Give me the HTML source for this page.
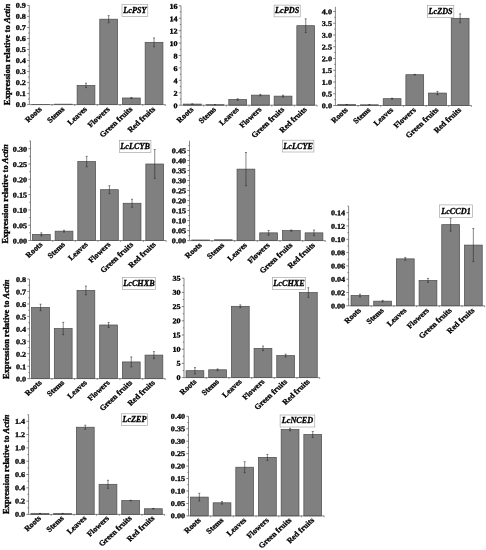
<!DOCTYPE html>
<html lang="en"><head><meta charset="utf-8"><title>Figure</title>
<style>
html,body{margin:0;padding:0;background:#fff;overflow:hidden}
svg{display:block}
text{font-family:"Liberation Serif",serif;font-weight:bold;fill:#000;stroke:#000;stroke-width:0.3px}
.t{font-size:7.3px}
.c{font-size:7.9px;stroke-width:0.28px}
.l{font-size:8.2px;font-style:italic}
.y{font-size:8.7px;stroke-width:0.34px}
</style></head><body>
<svg width="486" height="550" viewBox="0 0 486 550">
<rect width="486" height="550" fill="#fff"/>
<g>
<rect x="31.74" y="104.38" width="17.8" height="0.22" fill="#808080" stroke="#4a4a4a" stroke-width="0.7"/>
<rect x="54.42" y="104.16" width="17.8" height="0.44" fill="#808080" stroke="#4a4a4a" stroke-width="0.7"/>
<rect x="77.1" y="85.42" width="17.8" height="19.18" fill="#808080" stroke="#4a4a4a" stroke-width="0.7"/>
<path d="M86 83.22V87.63M85 83.22h2M85 87.63h2" stroke="#222" stroke-width="0.55" fill="none"/>
<rect x="99.78" y="19.18" width="17.8" height="85.42" fill="#808080" stroke="#4a4a4a" stroke-width="0.7"/>
<path d="M108.68 15.65V22.7M107.68 15.65h2M107.68 22.7h2" stroke="#222" stroke-width="0.55" fill="none"/>
<rect x="122.46" y="97.99" width="17.8" height="6.61" fill="#808080" stroke="#4a4a4a" stroke-width="0.7"/>
<path d="M131.36 97.44V98.54M130.36 97.44h2M130.36 98.54h2" stroke="#222" stroke-width="0.55" fill="none"/>
<rect x="145.14" y="42.32" width="17.8" height="62.28" fill="#808080" stroke="#4a4a4a" stroke-width="0.7"/>
<path d="M154.04 37.92V46.73M153.04 37.92h2M153.04 46.73h2" stroke="#222" stroke-width="0.55" fill="none"/>
<path d="M29.3 5.4V104.6H165.38M29.3 104.6h-2.2M29.3 99.09h-1.2M29.3 93.58h-2.2M29.3 88.07h-1.2M29.3 82.56h-2.2M29.3 77.04h-1.2M29.3 71.53h-2.2M29.3 66.02h-1.2M29.3 60.51h-2.2M29.3 55h-1.2M29.3 49.49h-2.2M29.3 43.98h-1.2M29.3 38.47h-2.2M29.3 32.96h-1.2M29.3 27.44h-2.2M29.3 21.93h-1.2M29.3 16.42h-2.2M29.3 10.91h-1.2M29.3 5.4h-2.2M51.98 104.6v1.3M74.66 104.6v1.3M97.34 104.6v1.3M120.02 104.6v1.3M142.7 104.6v1.3M165.38 104.6v1.3" stroke="#555" stroke-width="0.7" fill="none"/>
<text transform="translate(25.9 107.05) rotate(0.05) scale(1.12 1)" text-anchor="end" class="t">0.0</text>
<text transform="translate(25.9 96.03) rotate(0.05) scale(1.12 1)" text-anchor="end" class="t">0.1</text>
<text transform="translate(25.9 85.01) rotate(0.05) scale(1.12 1)" text-anchor="end" class="t">0.2</text>
<text transform="translate(25.9 73.98) rotate(0.05) scale(1.12 1)" text-anchor="end" class="t">0.3</text>
<text transform="translate(25.9 62.96) rotate(0.05) scale(1.12 1)" text-anchor="end" class="t">0.4</text>
<text transform="translate(25.9 51.94) rotate(0.05) scale(1.12 1)" text-anchor="end" class="t">0.5</text>
<text transform="translate(25.9 40.92) rotate(0.05) scale(1.12 1)" text-anchor="end" class="t">0.6</text>
<text transform="translate(25.9 29.89) rotate(0.05) scale(1.12 1)" text-anchor="end" class="t">0.7</text>
<text transform="translate(25.9 18.87) rotate(0.05) scale(1.12 1)" text-anchor="end" class="t">0.8</text>
<text transform="translate(25.9 7.85) rotate(0.05) scale(1.12 1)" text-anchor="end" class="t">0.9</text>
<text transform="translate(42.24 109.6) scale(1.035 .965) rotate(-45)" text-anchor="end" class="c">Roots</text>
<text transform="translate(64.92 109.6) scale(1.035 .965) rotate(-45)" text-anchor="end" class="c">Stems</text>
<text transform="translate(87.6 109.6) scale(1.035 .965) rotate(-45)" text-anchor="end" class="c">Leaves</text>
<text transform="translate(110.28 109.6) scale(1.035 .965) rotate(-45)" text-anchor="end" class="c">Flowers</text>
<text transform="translate(132.96 109.6) scale(1.035 .965) rotate(-45)" text-anchor="end" class="c">Green fruits</text>
<text transform="translate(155.64 109.6) scale(1.035 .965) rotate(-45)" text-anchor="end" class="c">Red fruits</text>
<rect x="122" y="4.3" width="25.8" height="12.1" fill="#fff" stroke="#9a9a9a" stroke-width="0.6"/>
<text x="134.9" y="13" text-anchor="middle" class="l">LcPSY</text>
<text transform="translate(9.6 54.45) rotate(-90) scale(0.996 1)" text-anchor="middle" class="y">Expression relative to <tspan font-style="italic">Actin</tspan></text>
</g>
<g>
<rect x="183.44" y="104.08" width="17.8" height="1.12" fill="#808080" stroke="#4a4a4a" stroke-width="0.7"/>
<path d="M192.34 103.9V104.27M191.34 103.9h2M191.34 104.27h2" stroke="#222" stroke-width="0.55" fill="none"/>
<rect x="206.12" y="104.7" width="17.8" height="0.5" fill="#808080" stroke="#4a4a4a" stroke-width="0.7"/>
<path d="M215.02 104.58V104.83M214.02 104.58h2M214.02 104.83h2" stroke="#222" stroke-width="0.55" fill="none"/>
<rect x="228.8" y="99.48" width="17.8" height="5.72" fill="#808080" stroke="#4a4a4a" stroke-width="0.7"/>
<path d="M237.7 98.74V100.23M236.7 98.74h2M236.7 100.23h2" stroke="#222" stroke-width="0.55" fill="none"/>
<rect x="251.48" y="95.14" width="17.8" height="10.06" fill="#808080" stroke="#4a4a4a" stroke-width="0.7"/>
<path d="M260.38 94.39V95.88M259.38 94.39h2M259.38 95.88h2" stroke="#222" stroke-width="0.55" fill="none"/>
<rect x="274.16" y="96.13" width="17.8" height="9.07" fill="#808080" stroke="#4a4a4a" stroke-width="0.7"/>
<path d="M283.06 95.2V97.06M282.06 95.2h2M282.06 97.06h2" stroke="#222" stroke-width="0.55" fill="none"/>
<rect x="296.84" y="25.68" width="17.8" height="79.52" fill="#808080" stroke="#4a4a4a" stroke-width="0.7"/>
<path d="M305.74 18.85V32.51M304.74 18.85h2M304.74 32.51h2" stroke="#222" stroke-width="0.55" fill="none"/>
<path d="M181 5.8V105.2H317.08M181 105.2h-2.2M181 98.99h-1.2M181 92.78h-2.2M181 86.56h-1.2M181 80.35h-2.2M181 74.14h-1.2M181 67.92h-2.2M181 61.71h-1.2M181 55.5h-2.2M181 49.29h-1.2M181 43.08h-2.2M181 36.86h-1.2M181 30.65h-2.2M181 24.44h-1.2M181 18.22h-2.2M181 12.01h-1.2M181 5.8h-2.2M203.68 105.2v1.3M226.36 105.2v1.3M249.04 105.2v1.3M271.72 105.2v1.3M294.4 105.2v1.3M317.08 105.2v1.3" stroke="#555" stroke-width="0.7" fill="none"/>
<text transform="translate(177.6 108.15) rotate(0.05) scale(1.12 1)" text-anchor="end" class="t">0</text>
<text transform="translate(177.6 95.73) rotate(0.05) scale(1.12 1)" text-anchor="end" class="t">2</text>
<text transform="translate(177.6 83.3) rotate(0.05) scale(1.12 1)" text-anchor="end" class="t">4</text>
<text transform="translate(177.6 70.88) rotate(0.05) scale(1.12 1)" text-anchor="end" class="t">6</text>
<text transform="translate(177.6 58.45) rotate(0.05) scale(1.12 1)" text-anchor="end" class="t">8</text>
<text transform="translate(177.6 46.03) rotate(0.05) scale(1.12 1)" text-anchor="end" class="t">10</text>
<text transform="translate(177.6 33.6) rotate(0.05) scale(1.12 1)" text-anchor="end" class="t">12</text>
<text transform="translate(177.6 21.17) rotate(0.05) scale(1.12 1)" text-anchor="end" class="t">14</text>
<text transform="translate(177.6 8.75) rotate(0.05) scale(1.12 1)" text-anchor="end" class="t">16</text>
<text transform="translate(193.94 110) scale(1.035 .965) rotate(-45)" text-anchor="end" class="c">Roots</text>
<text transform="translate(216.62 110) scale(1.035 .965) rotate(-45)" text-anchor="end" class="c">Stems</text>
<text transform="translate(239.3 110) scale(1.035 .965) rotate(-45)" text-anchor="end" class="c">Leaves</text>
<text transform="translate(261.98 110) scale(1.035 .965) rotate(-45)" text-anchor="end" class="c">Flowers</text>
<text transform="translate(284.66 110) scale(1.035 .965) rotate(-45)" text-anchor="end" class="c">Green fruits</text>
<text transform="translate(307.34 110) scale(1.035 .965) rotate(-45)" text-anchor="end" class="c">Red fruits</text>
<rect x="274.1" y="5.1" width="26.1" height="11.75" fill="#fff" stroke="#9a9a9a" stroke-width="0.6"/>
<text x="287.15" y="13.4" text-anchor="middle" class="l">LcPDS</text>
</g>
<g>
<rect x="337.84" y="104.56" width="17.8" height="0.94" fill="#808080" stroke="#4a4a4a" stroke-width="0.7"/>
<path d="M346.74 104.44V104.68M345.74 104.44h2M345.74 104.68h2" stroke="#222" stroke-width="0.55" fill="none"/>
<rect x="360.52" y="104.8" width="17.8" height="0.7" fill="#808080" stroke="#4a4a4a" stroke-width="0.7"/>
<path d="M369.42 104.68V104.91M368.42 104.68h2M368.42 104.91h2" stroke="#222" stroke-width="0.55" fill="none"/>
<rect x="383.2" y="98.69" width="17.8" height="6.81" fill="#808080" stroke="#4a4a4a" stroke-width="0.7"/>
<path d="M392.1 98.22V99.16M391.1 98.22h2M391.1 99.16h2" stroke="#222" stroke-width="0.55" fill="none"/>
<rect x="405.88" y="74.72" width="17.8" height="30.78" fill="#808080" stroke="#4a4a4a" stroke-width="0.7"/>
<path d="M414.78 74.36V75.07M413.78 74.36h2M413.78 75.07h2" stroke="#222" stroke-width="0.55" fill="none"/>
<rect x="428.56" y="93.05" width="17.8" height="12.45" fill="#808080" stroke="#4a4a4a" stroke-width="0.7"/>
<path d="M437.46 91.4V94.69M436.46 91.4h2M436.46 94.69h2" stroke="#222" stroke-width="0.55" fill="none"/>
<rect x="451.24" y="18.31" width="17.8" height="87.19" fill="#808080" stroke="#4a4a4a" stroke-width="0.7"/>
<path d="M460.14 13.85V22.78M459.14 13.85h2M459.14 22.78h2" stroke="#222" stroke-width="0.55" fill="none"/>
<path d="M335.4 6.8V105.5H471.48M335.4 105.5h-2.2M335.4 99.62h-1.2M335.4 93.75h-2.2M335.4 87.88h-1.2M335.4 82h-2.2M335.4 76.12h-1.2M335.4 70.25h-2.2M335.4 64.38h-1.2M335.4 58.5h-2.2M335.4 52.62h-1.2M335.4 46.75h-2.2M335.4 40.88h-1.2M335.4 35h-2.2M335.4 29.12h-1.2M335.4 23.25h-2.2M335.4 17.38h-1.2M335.4 11.5h-2.2M358.08 105.5v1.3M380.76 105.5v1.3M403.44 105.5v1.3M426.12 105.5v1.3M448.8 105.5v1.3M471.48 105.5v1.3" stroke="#555" stroke-width="0.7" fill="none"/>
<text transform="translate(332 108.25) rotate(0.05) scale(1.12 1)" text-anchor="end" class="t">0.0</text>
<text transform="translate(332 96.5) rotate(0.05) scale(1.12 1)" text-anchor="end" class="t">0.5</text>
<text transform="translate(332 84.75) rotate(0.05) scale(1.12 1)" text-anchor="end" class="t">1.0</text>
<text transform="translate(332 73) rotate(0.05) scale(1.12 1)" text-anchor="end" class="t">1.5</text>
<text transform="translate(332 61.25) rotate(0.05) scale(1.12 1)" text-anchor="end" class="t">2.0</text>
<text transform="translate(332 49.5) rotate(0.05) scale(1.12 1)" text-anchor="end" class="t">2.5</text>
<text transform="translate(332 37.75) rotate(0.05) scale(1.12 1)" text-anchor="end" class="t">3.0</text>
<text transform="translate(332 26) rotate(0.05) scale(1.12 1)" text-anchor="end" class="t">3.5</text>
<text transform="translate(332 14.25) rotate(0.05) scale(1.12 1)" text-anchor="end" class="t">4.0</text>
<text transform="translate(348.34 110.3) scale(1.035 .965) rotate(-45)" text-anchor="end" class="c">Roots</text>
<text transform="translate(371.02 110.3) scale(1.035 .965) rotate(-45)" text-anchor="end" class="c">Stems</text>
<text transform="translate(393.7 110.3) scale(1.035 .965) rotate(-45)" text-anchor="end" class="c">Leaves</text>
<text transform="translate(416.38 110.3) scale(1.035 .965) rotate(-45)" text-anchor="end" class="c">Flowers</text>
<text transform="translate(439.06 110.3) scale(1.035 .965) rotate(-45)" text-anchor="end" class="c">Green fruits</text>
<text transform="translate(461.74 110.3) scale(1.035 .965) rotate(-45)" text-anchor="end" class="c">Red fruits</text>
<rect x="427.4" y="5.4" width="26.4" height="12.2" fill="#fff" stroke="#9a9a9a" stroke-width="0.6"/>
<text x="440.6" y="14.3" text-anchor="middle" class="l">LcZDS</text>
</g>
<g>
<rect x="32.44" y="234.38" width="17.8" height="6.12" fill="#808080" stroke="#4a4a4a" stroke-width="0.7"/>
<path d="M41.34 232.85V235.91M40.34 232.85h2M40.34 235.91h2" stroke="#222" stroke-width="0.55" fill="none"/>
<rect x="55.12" y="231.17" width="17.8" height="9.33" fill="#808080" stroke="#4a4a4a" stroke-width="0.7"/>
<path d="M64.02 230.25V232.09M63.02 230.25h2M63.02 232.09h2" stroke="#222" stroke-width="0.55" fill="none"/>
<rect x="77.8" y="161.55" width="17.8" height="78.95" fill="#808080" stroke="#4a4a4a" stroke-width="0.7"/>
<path d="M86.7 156.35V166.75M85.7 156.35h2M85.7 166.75h2" stroke="#222" stroke-width="0.55" fill="none"/>
<rect x="100.48" y="189.7" width="17.8" height="50.8" fill="#808080" stroke="#4a4a4a" stroke-width="0.7"/>
<path d="M109.38 185.73V193.68M108.38 185.73h2M108.38 193.68h2" stroke="#222" stroke-width="0.55" fill="none"/>
<rect x="123.16" y="203.26" width="17.8" height="37.24" fill="#808080" stroke="#4a4a4a" stroke-width="0.7"/>
<path d="M132.06 199.28V207.24M131.06 199.28h2M131.06 207.24h2" stroke="#222" stroke-width="0.55" fill="none"/>
<rect x="145.84" y="164" width="17.8" height="76.5" fill="#808080" stroke="#4a4a4a" stroke-width="0.7"/>
<path d="M154.74 149.62V178.38M153.74 149.62h2M153.74 178.38h2" stroke="#222" stroke-width="0.55" fill="none"/>
<path d="M30.5 140.74V240.5H166.08M30.5 240.5h-2.2M30.5 232.85h-1.2M30.5 225.2h-2.2M30.5 217.55h-1.2M30.5 209.9h-2.2M30.5 202.25h-1.2M30.5 194.6h-2.2M30.5 186.95h-1.2M30.5 179.3h-2.2M30.5 171.65h-1.2M30.5 164h-2.2M30.5 156.35h-1.2M30.5 148.7h-2.2M30.5 141.05h-1.2M52.68 240.5v1.3M75.36 240.5v1.3M98.04 240.5v1.3M120.72 240.5v1.3M143.4 240.5v1.3M166.08 240.5v1.3" stroke="#555" stroke-width="0.7" fill="none"/>
<text transform="translate(27.1 243.45) rotate(0.05) scale(1.12 1)" text-anchor="end" class="t">0.00</text>
<text transform="translate(27.1 228.15) rotate(0.05) scale(1.12 1)" text-anchor="end" class="t">0.05</text>
<text transform="translate(27.1 212.85) rotate(0.05) scale(1.12 1)" text-anchor="end" class="t">0.10</text>
<text transform="translate(27.1 197.55) rotate(0.05) scale(1.12 1)" text-anchor="end" class="t">0.15</text>
<text transform="translate(27.1 182.25) rotate(0.05) scale(1.12 1)" text-anchor="end" class="t">0.20</text>
<text transform="translate(27.1 166.95) rotate(0.05) scale(1.12 1)" text-anchor="end" class="t">0.25</text>
<text transform="translate(27.1 151.65) rotate(0.05) scale(1.12 1)" text-anchor="end" class="t">0.30</text>
<text transform="translate(42.94 245) scale(1.035 .965) rotate(-45)" text-anchor="end" class="c">Roots</text>
<text transform="translate(65.62 245) scale(1.035 .965) rotate(-45)" text-anchor="end" class="c">Stems</text>
<text transform="translate(88.3 245) scale(1.035 .965) rotate(-45)" text-anchor="end" class="c">Leaves</text>
<text transform="translate(110.98 245) scale(1.035 .965) rotate(-45)" text-anchor="end" class="c">Flowers</text>
<text transform="translate(133.66 245) scale(1.035 .965) rotate(-45)" text-anchor="end" class="c">Green fruits</text>
<text transform="translate(156.34 245) scale(1.035 .965) rotate(-45)" text-anchor="end" class="c">Red fruits</text>
<rect x="119.4" y="140.4" width="31.5" height="11.9" fill="#fff" stroke="#9a9a9a" stroke-width="0.6"/>
<text x="135.15" y="148.7" text-anchor="middle" class="l">LcLCYB</text>
<text transform="translate(7.9 194) rotate(-90) scale(0.975 1)" text-anchor="middle" class="y">Expression relative to <tspan font-style="italic">Actin</tspan></text>
</g>
<g>
<rect x="191.69" y="240" width="17.8" height="0.6" fill="#808080" stroke="#4a4a4a" stroke-width="0.7"/>
<rect x="214.37" y="239.8" width="17.8" height="0.8" fill="#808080" stroke="#4a4a4a" stroke-width="0.7"/>
<rect x="237.05" y="169.12" width="17.8" height="71.48" fill="#808080" stroke="#4a4a4a" stroke-width="0.7"/>
<path d="M245.95 152.5V185.74M244.95 152.5h2M244.95 185.74h2" stroke="#222" stroke-width="0.55" fill="none"/>
<rect x="259.73" y="232.85" width="17.8" height="7.75" fill="#808080" stroke="#4a4a4a" stroke-width="0.7"/>
<path d="M268.63 230.45V235.25M267.63 230.45h2M267.63 235.25h2" stroke="#222" stroke-width="0.55" fill="none"/>
<rect x="282.41" y="230.59" width="17.8" height="10.01" fill="#808080" stroke="#4a4a4a" stroke-width="0.7"/>
<path d="M291.31 229.99V231.19M290.31 229.99h2M290.31 231.19h2" stroke="#222" stroke-width="0.55" fill="none"/>
<rect x="305.09" y="232.85" width="17.8" height="7.75" fill="#808080" stroke="#4a4a4a" stroke-width="0.7"/>
<path d="M313.99 230.05V235.65M312.99 230.05h2M312.99 235.65h2" stroke="#222" stroke-width="0.55" fill="none"/>
<path d="M189.5 140.75V240.6H325.33M189.5 240.6h-2.2M189.5 235.59h-1.2M189.5 230.59h-2.2M189.5 225.58h-1.2M189.5 220.58h-2.2M189.5 215.57h-1.2M189.5 210.57h-2.2M189.5 205.56h-1.2M189.5 200.56h-2.2M189.5 195.55h-1.2M189.5 190.54h-2.2M189.5 185.54h-1.2M189.5 180.53h-2.2M189.5 175.53h-1.2M189.5 170.52h-2.2M189.5 165.52h-1.2M189.5 160.51h-2.2M189.5 155.51h-1.2M189.5 150.5h-2.2M189.5 145.49h-1.2M211.93 240.6v1.3M234.61 240.6v1.3M257.29 240.6v1.3M279.97 240.6v1.3M302.65 240.6v1.3M325.33 240.6v1.3" stroke="#555" stroke-width="0.7" fill="none"/>
<text transform="translate(186.1 243.35) rotate(0.05) scale(1.12 1)" text-anchor="end" class="t">0.00</text>
<text transform="translate(186.1 233.34) rotate(0.05) scale(1.12 1)" text-anchor="end" class="t">0.05</text>
<text transform="translate(186.1 223.33) rotate(0.05) scale(1.12 1)" text-anchor="end" class="t">0.10</text>
<text transform="translate(186.1 213.32) rotate(0.05) scale(1.12 1)" text-anchor="end" class="t">0.15</text>
<text transform="translate(186.1 203.31) rotate(0.05) scale(1.12 1)" text-anchor="end" class="t">0.20</text>
<text transform="translate(186.1 193.29) rotate(0.05) scale(1.12 1)" text-anchor="end" class="t">0.25</text>
<text transform="translate(186.1 183.28) rotate(0.05) scale(1.12 1)" text-anchor="end" class="t">0.30</text>
<text transform="translate(186.1 173.27) rotate(0.05) scale(1.12 1)" text-anchor="end" class="t">0.35</text>
<text transform="translate(186.1 163.26) rotate(0.05) scale(1.12 1)" text-anchor="end" class="t">0.40</text>
<text transform="translate(186.1 153.25) rotate(0.05) scale(1.12 1)" text-anchor="end" class="t">0.45</text>
<text transform="translate(202.19 245.6) scale(1.035 .965) rotate(-45)" text-anchor="end" class="c">Roots</text>
<text transform="translate(224.87 245.6) scale(1.035 .965) rotate(-45)" text-anchor="end" class="c">Stems</text>
<text transform="translate(247.55 245.6) scale(1.035 .965) rotate(-45)" text-anchor="end" class="c">Leaves</text>
<text transform="translate(270.23 245.6) scale(1.035 .965) rotate(-45)" text-anchor="end" class="c">Flowers</text>
<text transform="translate(292.91 245.6) scale(1.035 .965) rotate(-45)" text-anchor="end" class="c">Green fruits</text>
<text transform="translate(315.59 245.6) scale(1.035 .965) rotate(-45)" text-anchor="end" class="c">Red fruits</text>
<rect x="282.4" y="140.2" width="31.5" height="11.8" fill="#fff" stroke="#9a9a9a" stroke-width="0.6"/>
<text x="298.15" y="148.55" text-anchor="middle" class="l">LcLCYE</text>
</g>
<g>
<rect x="351.04" y="295.49" width="17.8" height="10.31" fill="#808080" stroke="#4a4a4a" stroke-width="0.7"/>
<path d="M359.94 294.16V296.82M358.94 294.16h2M358.94 296.82h2" stroke="#222" stroke-width="0.55" fill="none"/>
<rect x="373.72" y="301.15" width="17.8" height="4.65" fill="#808080" stroke="#4a4a4a" stroke-width="0.7"/>
<path d="M382.62 300.35V301.94M381.62 300.35h2M381.62 301.94h2" stroke="#222" stroke-width="0.55" fill="none"/>
<rect x="396.4" y="258.85" width="17.8" height="46.95" fill="#808080" stroke="#4a4a4a" stroke-width="0.7"/>
<path d="M405.3 257.52V260.18M404.3 257.52h2M404.3 260.18h2" stroke="#222" stroke-width="0.55" fill="none"/>
<rect x="419.08" y="280.4" width="17.8" height="25.4" fill="#808080" stroke="#4a4a4a" stroke-width="0.7"/>
<path d="M427.98 278.4V282.39M426.98 278.4h2M426.98 282.39h2" stroke="#222" stroke-width="0.55" fill="none"/>
<rect x="441.76" y="224.67" width="17.8" height="81.13" fill="#808080" stroke="#4a4a4a" stroke-width="0.7"/>
<path d="M450.66 218.15V231.19M449.66 218.15h2M449.66 231.19h2" stroke="#222" stroke-width="0.55" fill="none"/>
<rect x="464.44" y="245.09" width="17.8" height="60.71" fill="#808080" stroke="#4a4a4a" stroke-width="0.7"/>
<path d="M473.34 228.53V261.64M472.34 228.53h2M472.34 261.64h2" stroke="#222" stroke-width="0.55" fill="none"/>
<path d="M348.6 206.05V305.8H484.68M348.6 305.8h-2.2M348.6 299.15h-1.2M348.6 292.5h-2.2M348.6 285.85h-1.2M348.6 279.2h-2.2M348.6 272.55h-1.2M348.6 265.9h-2.2M348.6 259.25h-1.2M348.6 252.6h-2.2M348.6 245.95h-1.2M348.6 239.3h-2.2M348.6 232.65h-1.2M348.6 226h-2.2M348.6 219.35h-1.2M348.6 212.7h-2.2M348.6 206.05h-1.2M371.28 305.8v1.3M393.96 305.8v1.3M416.64 305.8v1.3M439.32 305.8v1.3M462 305.8v1.3M484.68 305.8v1.3" stroke="#555" stroke-width="0.7" fill="none"/>
<text transform="translate(345.2 308.45) rotate(0.05) scale(1.12 1)" text-anchor="end" class="t">0.00</text>
<text transform="translate(345.2 295.15) rotate(0.05) scale(1.12 1)" text-anchor="end" class="t">0.02</text>
<text transform="translate(345.2 281.85) rotate(0.05) scale(1.12 1)" text-anchor="end" class="t">0.04</text>
<text transform="translate(345.2 268.55) rotate(0.05) scale(1.12 1)" text-anchor="end" class="t">0.06</text>
<text transform="translate(345.2 255.25) rotate(0.05) scale(1.12 1)" text-anchor="end" class="t">0.08</text>
<text transform="translate(345.2 241.95) rotate(0.05) scale(1.12 1)" text-anchor="end" class="t">0.10</text>
<text transform="translate(345.2 228.65) rotate(0.05) scale(1.12 1)" text-anchor="end" class="t">0.12</text>
<text transform="translate(345.2 215.35) rotate(0.05) scale(1.12 1)" text-anchor="end" class="t">0.14</text>
<text transform="translate(361.54 310.8) scale(1.035 .965) rotate(-45)" text-anchor="end" class="c">Roots</text>
<text transform="translate(384.22 310.8) scale(1.035 .965) rotate(-45)" text-anchor="end" class="c">Stems</text>
<text transform="translate(406.9 310.8) scale(1.035 .965) rotate(-45)" text-anchor="end" class="c">Leaves</text>
<text transform="translate(429.58 310.8) scale(1.035 .965) rotate(-45)" text-anchor="end" class="c">Flowers</text>
<text transform="translate(452.26 310.8) scale(1.035 .965) rotate(-45)" text-anchor="end" class="c">Green fruits</text>
<text transform="translate(474.94 310.8) scale(1.035 .965) rotate(-45)" text-anchor="end" class="c">Red fruits</text>
<rect x="439.4" y="204.9" width="33.1" height="12.4" fill="#fff" stroke="#9a9a9a" stroke-width="0.6"/>
<text x="455.95" y="213.55" text-anchor="middle" class="l">LcCCD1</text>
</g>
<g>
<rect x="31.64" y="307.46" width="17.8" height="71.14" fill="#808080" stroke="#4a4a4a" stroke-width="0.7"/>
<path d="M40.54 304.22V310.69M39.54 304.22h2M39.54 310.69h2" stroke="#222" stroke-width="0.55" fill="none"/>
<rect x="54.32" y="328.53" width="17.8" height="50.07" fill="#808080" stroke="#4a4a4a" stroke-width="0.7"/>
<path d="M63.22 322.31V334.75M62.22 322.31h2M62.22 334.75h2" stroke="#222" stroke-width="0.55" fill="none"/>
<rect x="77" y="290.42" width="17.8" height="88.18" fill="#808080" stroke="#4a4a4a" stroke-width="0.7"/>
<path d="M85.9 286.07V294.77M84.9 286.07h2M84.9 294.77h2" stroke="#222" stroke-width="0.55" fill="none"/>
<rect x="99.68" y="324.99" width="17.8" height="53.61" fill="#808080" stroke="#4a4a4a" stroke-width="0.7"/>
<path d="M108.58 322.51V327.48M107.58 322.51h2M107.58 327.48h2" stroke="#222" stroke-width="0.55" fill="none"/>
<rect x="122.36" y="361.93" width="17.8" height="16.67" fill="#808080" stroke="#4a4a4a" stroke-width="0.7"/>
<path d="M131.26 356.96V366.91M130.26 356.96h2M130.26 366.91h2" stroke="#222" stroke-width="0.55" fill="none"/>
<rect x="145.04" y="355.09" width="17.8" height="23.51" fill="#808080" stroke="#4a4a4a" stroke-width="0.7"/>
<path d="M153.94 351.61V358.58M152.94 351.61h2M152.94 358.58h2" stroke="#222" stroke-width="0.55" fill="none"/>
<path d="M29.5 279.1V378.6H165.28M29.5 378.6h-2.2M29.5 372.38h-1.2M29.5 366.16h-2.2M29.5 359.94h-1.2M29.5 353.73h-2.2M29.5 347.51h-1.2M29.5 341.29h-2.2M29.5 335.07h-1.2M29.5 328.85h-2.2M29.5 322.63h-1.2M29.5 316.41h-2.2M29.5 310.19h-1.2M29.5 303.98h-2.2M29.5 297.76h-1.2M29.5 291.54h-2.2M29.5 285.32h-1.2M29.5 279.1h-2.2M51.88 378.6v1.3M74.56 378.6v1.3M97.24 378.6v1.3M119.92 378.6v1.3M142.6 378.6v1.3M165.28 378.6v1.3" stroke="#555" stroke-width="0.7" fill="none"/>
<text transform="translate(26.1 381.6) rotate(0.05) scale(1.12 1)" text-anchor="end" class="t">0.0</text>
<text transform="translate(26.1 369.16) rotate(0.05) scale(1.12 1)" text-anchor="end" class="t">0.1</text>
<text transform="translate(26.1 356.73) rotate(0.05) scale(1.12 1)" text-anchor="end" class="t">0.2</text>
<text transform="translate(26.1 344.29) rotate(0.05) scale(1.12 1)" text-anchor="end" class="t">0.3</text>
<text transform="translate(26.1 331.85) rotate(0.05) scale(1.12 1)" text-anchor="end" class="t">0.4</text>
<text transform="translate(26.1 319.41) rotate(0.05) scale(1.12 1)" text-anchor="end" class="t">0.5</text>
<text transform="translate(26.1 306.98) rotate(0.05) scale(1.12 1)" text-anchor="end" class="t">0.6</text>
<text transform="translate(26.1 294.54) rotate(0.05) scale(1.12 1)" text-anchor="end" class="t">0.7</text>
<text transform="translate(26.1 282.1) rotate(0.05) scale(1.12 1)" text-anchor="end" class="t">0.8</text>
<text transform="translate(42.14 383.1) scale(1.035 .965) rotate(-45)" text-anchor="end" class="c">Roots</text>
<text transform="translate(64.82 383.1) scale(1.035 .965) rotate(-45)" text-anchor="end" class="c">Stems</text>
<text transform="translate(87.5 383.1) scale(1.035 .965) rotate(-45)" text-anchor="end" class="c">Leaves</text>
<text transform="translate(110.18 383.1) scale(1.035 .965) rotate(-45)" text-anchor="end" class="c">Flowers</text>
<text transform="translate(132.86 383.1) scale(1.035 .965) rotate(-45)" text-anchor="end" class="c">Green fruits</text>
<text transform="translate(155.54 383.1) scale(1.035 .965) rotate(-45)" text-anchor="end" class="c">Red fruits</text>
<rect x="122.4" y="277.4" width="33.1" height="12" fill="#fff" stroke="#9a9a9a" stroke-width="0.6"/>
<text x="138.95" y="285.7" text-anchor="middle" class="l">LcCHXB</text>
<text transform="translate(9 329.25) rotate(-90) scale(0.978 1)" text-anchor="middle" class="y">Expression relative to <tspan font-style="italic">Actin</tspan></text>
</g>
<g>
<rect x="186.04" y="370.7" width="17.8" height="6.9" fill="#808080" stroke="#4a4a4a" stroke-width="0.7"/>
<path d="M194.94 367.57V373.82M193.94 367.57h2M193.94 373.82h2" stroke="#222" stroke-width="0.55" fill="none"/>
<rect x="208.72" y="369.79" width="17.8" height="7.81" fill="#808080" stroke="#4a4a4a" stroke-width="0.7"/>
<path d="M217.62 368.94V370.64M216.62 368.94h2M216.62 370.64h2" stroke="#222" stroke-width="0.55" fill="none"/>
<rect x="231.4" y="306.32" width="17.8" height="71.28" fill="#808080" stroke="#4a4a4a" stroke-width="0.7"/>
<path d="M240.3 304.9V307.74M239.3 304.9h2M239.3 307.74h2" stroke="#222" stroke-width="0.55" fill="none"/>
<rect x="254.08" y="348.35" width="17.8" height="29.25" fill="#808080" stroke="#4a4a4a" stroke-width="0.7"/>
<path d="M262.98 346.08V350.62M261.98 346.08h2M261.98 350.62h2" stroke="#222" stroke-width="0.55" fill="none"/>
<rect x="276.76" y="355.59" width="17.8" height="22.01" fill="#808080" stroke="#4a4a4a" stroke-width="0.7"/>
<path d="M285.66 354.17V357.01M284.66 354.17h2M284.66 357.01h2" stroke="#222" stroke-width="0.55" fill="none"/>
<rect x="299.44" y="292.51" width="17.8" height="85.09" fill="#808080" stroke="#4a4a4a" stroke-width="0.7"/>
<path d="M308.34 287.69V297.34M307.34 287.69h2M307.34 297.34h2" stroke="#222" stroke-width="0.55" fill="none"/>
<path d="M184 278.2V377.6H319.68M184 377.6h-2.2M184 370.5h-1.2M184 363.4h-2.2M184 356.3h-1.2M184 349.2h-2.2M184 342.1h-1.2M184 335h-2.2M184 327.9h-1.2M184 320.8h-2.2M184 313.7h-1.2M184 306.6h-2.2M184 299.5h-1.2M184 292.4h-2.2M184 285.3h-1.2M184 278.2h-2.2M206.28 377.6v1.3M228.96 377.6v1.3M251.64 377.6v1.3M274.32 377.6v1.3M297 377.6v1.3M319.68 377.6v1.3" stroke="#555" stroke-width="0.7" fill="none"/>
<text transform="translate(180.6 380.05) rotate(0.05) scale(1.12 1)" text-anchor="end" class="t">0</text>
<text transform="translate(180.6 365.85) rotate(0.05) scale(1.12 1)" text-anchor="end" class="t">5</text>
<text transform="translate(180.6 351.65) rotate(0.05) scale(1.12 1)" text-anchor="end" class="t">10</text>
<text transform="translate(180.6 337.45) rotate(0.05) scale(1.12 1)" text-anchor="end" class="t">15</text>
<text transform="translate(180.6 323.25) rotate(0.05) scale(1.12 1)" text-anchor="end" class="t">20</text>
<text transform="translate(180.6 309.05) rotate(0.05) scale(1.12 1)" text-anchor="end" class="t">25</text>
<text transform="translate(180.6 294.85) rotate(0.05) scale(1.12 1)" text-anchor="end" class="t">30</text>
<text transform="translate(180.6 280.65) rotate(0.05) scale(1.12 1)" text-anchor="end" class="t">35</text>
<text transform="translate(196.94 382.1) scale(1.035 .965) rotate(-45)" text-anchor="end" class="c">Roots</text>
<text transform="translate(219.62 382.1) scale(1.035 .965) rotate(-45)" text-anchor="end" class="c">Stems</text>
<text transform="translate(242.3 382.1) scale(1.035 .965) rotate(-45)" text-anchor="end" class="c">Leaves</text>
<text transform="translate(264.98 382.1) scale(1.035 .965) rotate(-45)" text-anchor="end" class="c">Flowers</text>
<text transform="translate(287.66 382.1) scale(1.035 .965) rotate(-45)" text-anchor="end" class="c">Green fruits</text>
<text transform="translate(310.34 382.1) scale(1.035 .965) rotate(-45)" text-anchor="end" class="c">Red fruits</text>
<rect x="272.4" y="277.4" width="33.3" height="12" fill="#fff" stroke="#9a9a9a" stroke-width="0.6"/>
<text x="289.05" y="285.9" text-anchor="middle" class="l">LcCHXE</text>
</g>
<g>
<rect x="31.04" y="513.6" width="17.8" height="0.8" fill="#808080" stroke="#4a4a4a" stroke-width="0.7"/>
<path d="M39.94 513.4V513.8M38.94 513.4h2M38.94 513.8h2" stroke="#222" stroke-width="0.55" fill="none"/>
<rect x="53.72" y="513.6" width="17.8" height="0.8" fill="#808080" stroke="#4a4a4a" stroke-width="0.7"/>
<path d="M62.62 513.4V513.8M61.62 513.4h2M61.62 513.8h2" stroke="#222" stroke-width="0.55" fill="none"/>
<rect x="76.4" y="427.22" width="17.8" height="87.18" fill="#808080" stroke="#4a4a4a" stroke-width="0.7"/>
<path d="M85.3 425.22V429.21M84.3 425.22h2M84.3 429.21h2" stroke="#222" stroke-width="0.55" fill="none"/>
<rect x="99.08" y="484.3" width="17.8" height="30.1" fill="#808080" stroke="#4a4a4a" stroke-width="0.7"/>
<path d="M107.98 480.31V488.29M106.98 480.31h2M106.98 488.29h2" stroke="#222" stroke-width="0.55" fill="none"/>
<rect x="121.76" y="500.57" width="17.8" height="13.83" fill="#808080" stroke="#4a4a4a" stroke-width="0.7"/>
<path d="M130.66 500.3V500.83M129.66 500.3h2M129.66 500.83h2" stroke="#222" stroke-width="0.55" fill="none"/>
<rect x="144.44" y="508.75" width="17.8" height="5.65" fill="#808080" stroke="#4a4a4a" stroke-width="0.7"/>
<path d="M153.34 508.48V509.01M152.34 508.48h2M152.34 509.01h2" stroke="#222" stroke-width="0.55" fill="none"/>
<path d="M28.6 414.65V514.4H164.68M28.6 514.4h-2.2M28.6 507.75h-1.2M28.6 501.1h-2.2M28.6 494.45h-1.2M28.6 487.8h-2.2M28.6 481.15h-1.2M28.6 474.5h-2.2M28.6 467.85h-1.2M28.6 461.2h-2.2M28.6 454.55h-1.2M28.6 447.9h-2.2M28.6 441.25h-1.2M28.6 434.6h-2.2M28.6 427.95h-1.2M28.6 421.3h-2.2M28.6 414.65h-1.2M51.28 514.4v1.3M73.96 514.4v1.3M96.64 514.4v1.3M119.32 514.4v1.3M142 514.4v1.3M164.68 514.4v1.3" stroke="#555" stroke-width="0.7" fill="none"/>
<text transform="translate(25.2 516.85) rotate(0.05) scale(1.12 1)" text-anchor="end" class="t">0.0</text>
<text transform="translate(25.2 503.55) rotate(0.05) scale(1.12 1)" text-anchor="end" class="t">0.2</text>
<text transform="translate(25.2 490.25) rotate(0.05) scale(1.12 1)" text-anchor="end" class="t">0.4</text>
<text transform="translate(25.2 476.95) rotate(0.05) scale(1.12 1)" text-anchor="end" class="t">0.6</text>
<text transform="translate(25.2 463.65) rotate(0.05) scale(1.12 1)" text-anchor="end" class="t">0.8</text>
<text transform="translate(25.2 450.35) rotate(0.05) scale(1.12 1)" text-anchor="end" class="t">1.0</text>
<text transform="translate(25.2 437.05) rotate(0.05) scale(1.12 1)" text-anchor="end" class="t">1.2</text>
<text transform="translate(25.2 423.75) rotate(0.05) scale(1.12 1)" text-anchor="end" class="t">1.4</text>
<text transform="translate(41.54 518.7) scale(1.035 .965) rotate(-45)" text-anchor="end" class="c">Roots</text>
<text transform="translate(64.22 518.7) scale(1.035 .965) rotate(-45)" text-anchor="end" class="c">Stems</text>
<text transform="translate(86.9 518.7) scale(1.035 .965) rotate(-45)" text-anchor="end" class="c">Leaves</text>
<text transform="translate(109.58 518.7) scale(1.035 .965) rotate(-45)" text-anchor="end" class="c">Flowers</text>
<text transform="translate(132.26 518.7) scale(1.035 .965) rotate(-45)" text-anchor="end" class="c">Green fruits</text>
<text transform="translate(154.94 518.7) scale(1.035 .965) rotate(-45)" text-anchor="end" class="c">Red fruits</text>
<rect x="121.3" y="413.8" width="26.35" height="11.75" fill="#fff" stroke="#9a9a9a" stroke-width="0.6"/>
<text x="134.47" y="422.4" text-anchor="middle" class="l">LcZEP</text>
<text transform="translate(9 464.25) rotate(-90) scale(0.978 1)" text-anchor="middle" class="y">Expression relative to <tspan font-style="italic">Actin</tspan></text>
</g>
<g>
<rect x="190.44" y="497.1" width="17.8" height="18.8" fill="#808080" stroke="#4a4a4a" stroke-width="0.7"/>
<path d="M199.34 493.24V500.96M198.34 493.24h2M198.34 500.96h2" stroke="#222" stroke-width="0.55" fill="none"/>
<rect x="213.12" y="502.8" width="17.8" height="13.1" fill="#808080" stroke="#4a4a4a" stroke-width="0.7"/>
<path d="M222.02 501.56V504.05M221.02 501.56h2M221.02 504.05h2" stroke="#222" stroke-width="0.55" fill="none"/>
<rect x="235.8" y="467.22" width="17.8" height="48.68" fill="#808080" stroke="#4a4a4a" stroke-width="0.7"/>
<path d="M244.7 461.74V472.7M243.7 461.74h2M243.7 472.7h2" stroke="#222" stroke-width="0.55" fill="none"/>
<rect x="258.48" y="457.38" width="17.8" height="58.51" fill="#808080" stroke="#4a4a4a" stroke-width="0.7"/>
<path d="M267.38 454.4V460.37M266.38 454.4h2M266.38 460.37h2" stroke="#222" stroke-width="0.55" fill="none"/>
<rect x="281.16" y="429.5" width="17.8" height="86.4" fill="#808080" stroke="#4a4a4a" stroke-width="0.7"/>
<path d="M290.06 428.25V430.74M289.06 428.25h2M289.06 430.74h2" stroke="#222" stroke-width="0.55" fill="none"/>
<rect x="303.84" y="434.48" width="17.8" height="81.42" fill="#808080" stroke="#4a4a4a" stroke-width="0.7"/>
<path d="M312.74 431.49V437.46M311.74 431.49h2M311.74 437.46h2" stroke="#222" stroke-width="0.55" fill="none"/>
<path d="M188.5 416.3V515.9H324.08M188.5 515.9h-2.2M188.5 509.67h-1.2M188.5 503.45h-2.2M188.5 497.22h-1.2M188.5 491h-2.2M188.5 484.77h-1.2M188.5 478.55h-2.2M188.5 472.32h-1.2M188.5 466.1h-2.2M188.5 459.88h-1.2M188.5 453.65h-2.2M188.5 447.42h-1.2M188.5 441.2h-2.2M188.5 434.97h-1.2M188.5 428.75h-2.2M188.5 422.52h-1.2M188.5 416.3h-2.2M210.68 515.9v1.3M233.36 515.9v1.3M256.04 515.9v1.3M278.72 515.9v1.3M301.4 515.9v1.3M324.08 515.9v1.3" stroke="#555" stroke-width="0.7" fill="none"/>
<text transform="translate(185.1 518.35) rotate(0.05) scale(1.12 1)" text-anchor="end" class="t">0.00</text>
<text transform="translate(185.1 505.9) rotate(0.05) scale(1.12 1)" text-anchor="end" class="t">0.05</text>
<text transform="translate(185.1 493.45) rotate(0.05) scale(1.12 1)" text-anchor="end" class="t">0.10</text>
<text transform="translate(185.1 481) rotate(0.05) scale(1.12 1)" text-anchor="end" class="t">0.15</text>
<text transform="translate(185.1 468.55) rotate(0.05) scale(1.12 1)" text-anchor="end" class="t">0.20</text>
<text transform="translate(185.1 456.1) rotate(0.05) scale(1.12 1)" text-anchor="end" class="t">0.25</text>
<text transform="translate(185.1 443.65) rotate(0.05) scale(1.12 1)" text-anchor="end" class="t">0.30</text>
<text transform="translate(185.1 431.2) rotate(0.05) scale(1.12 1)" text-anchor="end" class="t">0.35</text>
<text transform="translate(185.1 418.75) rotate(0.05) scale(1.12 1)" text-anchor="end" class="t">0.40</text>
<text transform="translate(201.34 520.6) scale(1.035 .965) rotate(-45)" text-anchor="end" class="c">Roots</text>
<text transform="translate(224.02 520.6) scale(1.035 .965) rotate(-45)" text-anchor="end" class="c">Stems</text>
<text transform="translate(246.7 520.6) scale(1.035 .965) rotate(-45)" text-anchor="end" class="c">Leaves</text>
<text transform="translate(269.38 520.6) scale(1.035 .965) rotate(-45)" text-anchor="end" class="c">Flowers</text>
<text transform="translate(292.06 520.6) scale(1.035 .965) rotate(-45)" text-anchor="end" class="c">Green fruits</text>
<text transform="translate(314.74 520.6) scale(1.035 .965) rotate(-45)" text-anchor="end" class="c">Red fruits</text>
<rect x="280.1" y="415" width="34.7" height="12" fill="#fff" stroke="#9a9a9a" stroke-width="0.6"/>
<text x="297.45" y="423.3" text-anchor="middle" class="l">LcNCED</text>
</g>
</svg>
</body></html>
